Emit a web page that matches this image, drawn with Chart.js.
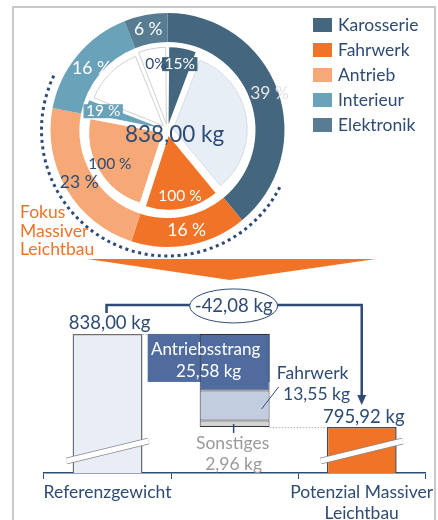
<!DOCTYPE html>
<html>
<head>
<meta charset="utf-8">
<script src="https://cdn.jsdelivr.net/npm/chart.js@4.4.1/dist/chart.umd.min.js"></script>
<style>
  body { margin: 0; width: 438px; height: 520px; overflow: hidden; background: #fff; position: relative;
         font-family: Lato, "Liberation Sans", Arial, sans-serif; }
  .frame { position: absolute; left: 12px; top: 6px; width: 424px; height: 530px; box-sizing: border-box;
           border: 2px solid #c8c8c8; border-bottom: none; }
  #pie { position: absolute; left: 0; top: 0; }
  #bars { position: absolute; left: 0; top: 280px; }
  #funnel { position: absolute; left: 0; top: 0; }
  .legend { position: absolute; left: 313px; top: 12px; }
  .legend div { height: 25px; display: flex; align-items: center; font-size: 17.5px; color: #2e4b74; }
  .legend span { display: inline-block; width: 19px; height: 14px; margin-right: 6px; }
  .focus { position: absolute; left: 20px; top: 203px; font-size: 17.5px; line-height: 18.5px; color: #f07328; }
</style>
</head>
<body>
<div class="frame"></div>
<svg id="funnel" width="438" height="290"><polygon points="87,259 376,259 230,280" fill="#f07328"/></svg>
<canvas id="pie" width="438" height="272"></canvas>
<canvas id="bars" width="438" height="240"></canvas>
<div class="legend" id="legend"></div>
<div class="focus">Fokus<br>Massiver<br>Leichtbau</div>
<script>
const FONT = 'Lato, "Liberation Sans", Arial, sans-serif';
const DARK = '#2e4b74';

// weight share per component group (outer ring, %)
const categories = ['Karosserie', 'Fahrwerk', 'Antrieb', 'Interieur', 'Elektronik'];
const weightShare = [39, 16, 23, 16, 6];
// share of each group addressed by massive lightweight design (inner pie, %)
const focusShare = [15, 100, 100, 19, 0];
const colors = ['#44677f', '#f07328', '#f6a877', '#69a2b9', '#587c91'];
const restColors = ['#e8eef5', '#ffffff', '#ffffff', '#ffffff', '#ffffff'];
const outerLabelColors = ['#e4e4e4', '#ffffff', DARK, '#ffffff', '#ffffff'];
const innerLabelColors = ['#ffffff', '#ffffff', DARK, '#ffffff', DARK];

// waterfall
const totalWeight = 838.00;
const potentialWeight = 795.92;
const savingNames = ['Antriebsstrang', 'Fahrwerk', 'Sonstiges'];
const savingValues = [25.58, 13.55, 2.96];
const savingColors = ['#506c9e', '#c3cde0', '#d4d4d4'];
const xLabels = ['Referenzgewicht', '', ['Potenzial Massiver', 'Leichtbau']];

const fmt = v => v.toFixed(2).replace('.', ',') + ' kg';
const font = size => size + 'px ' + FONT;

// legend
document.getElementById('legend').innerHTML = categories
  .map((c, i) => `<div><span style="background:${colors[i]}"></span>${c}</div>`).join('');

// inner pie: for each group the focus part followed by the rest
const innerData = [], innerColors = [], innerBorder = [];
weightShare.forEach((s, i) => {
  const f = s * focusShare[i] / 100;
  innerData.push(f, s - f);
  innerColors.push(colors[i], restColors[i]);
  innerBorder.push(0, restColors[i] === '#ffffff' ? '#d0d0d0' : '#d6dce6');
});

const pieLabels = {
  id: 'pieLabels',
  afterDatasetsDraw(chart) {
    const ctx = chart.ctx;
    const outer = chart.getDatasetMeta(0).data;
    const inner = chart.getDatasetMeta(2).data;
    const cx = outer[0].x, cy = outer[0].y;
    ctx.save();
    // dotted focus arc
    ctx.strokeStyle = '#2e4b74';
    ctx.lineWidth = 3;
    ctx.setLineDash([3, 3.6]);
    ctx.beginPath();
    ctx.arc(cx, cy, 126, (117 - 90) * Math.PI / 180, (296 - 90) * Math.PI / 180);
    ctx.stroke();
    ctx.setLineDash([]);

    ctx.textAlign = 'center';
    ctx.textBaseline = 'middle';
    ctx.font = font(17.5);
    outer.forEach((el, i) => {
      const a = (el.startAngle + el.endAngle) / 2;
      const r = (el.innerRadius + el.outerRadius) / 2 + (i === 0 ? 6 : 0);
      ctx.fillStyle = outerLabelColors[i];
      ctx.fillText(weightShare[i] + ' %', cx + Math.cos(a) * r + (i === 3 ? 3 : 0), cy + Math.sin(a) * r + (i === 3 ? 4 : 0));
    });

    ctx.font = font(15.5);
    focusShare.forEach((v, i) => {
      const el = v > 0 ? inner[i * 2] : inner[i * 2 + 1];
      const a = (el.startAngle + el.endAngle) / 2;
      const r = 67;
      const tx = cx + Math.cos(a) * r, ty = cy + Math.sin(a) * r;
      const text = v + (v < 20 ? (i === 3 ? ' %' : '%') : ' %');
      if (v > 0 && v < 50) {
        const w = ctx.measureText(text).width + 5;
        ctx.fillStyle = colors[i];
        ctx.fillRect(tx - w / 2, ty - 7, w, 14);
      }
      ctx.fillStyle = innerLabelColors[i];
      ctx.fillText(text, tx + (v === 0 ? 1 : 0), ty);
    });

    ctx.font = font(22.5);
    ctx.fillStyle = DARK;
    ctx.fillText(fmt(totalWeight), cx + 7, cy + 5);
    ctx.restore();
  }
};

new Chart(document.getElementById('pie'), {
  type: 'doughnut',
  data: {
    labels: categories,
    datasets: [
      { data: weightShare, backgroundColor: colors, borderWidth: 0, weight: 29 },
      { data: [1], backgroundColor: 'rgba(0,0,0,0)', borderWidth: 0, weight: 15 },
      {
        data: innerData, backgroundColor: innerColors, borderColor: innerBorder,
        borderWidth: innerBorder.map(b => b ? 1 : 0), weight: 73,
        offset: 24
      }
    ]
  },
  options: {
    responsive: false,
    animation: false,
    events: [],
    radius: 117,
    cutout: 0,
    layout: { padding: { left: 37.5, right: 140.5, top: 0, bottom: 12 } },
    plugins: { legend: { display: false }, tooltip: { enabled: false } }
  },
  plugins: [pieLabels]
});

// waterfall segments of the middle column
let level = totalWeight;
const savingSegments = savingValues.map(v => {
  const seg = [level - v, level];
  level -= v;
  return seg;
});

const barNotes = {
  id: 'barNotes',
  beforeDatasetsDraw(chart) {
    const { ctx, scales: { x, y } } = chart;
    const bw = chart.getDatasetMeta(1).data[1].width;
    const xMid = x.getPixelForValue(1);
    const yTop = y.getPixelForValue(totalWeight);
    ctx.save();
    ctx.fillStyle = savingColors[0];
    ctx.fillRect(xMid - bw / 2 - 52, yTop, 52 + bw, 48);
    ctx.restore();
  },
  afterDatasetsDraw(chart) {
    const { ctx, chartArea, scales: { x, y } } = chart;
    const bw = chart.getDatasetMeta(0).data[0].width;
    const xRef = x.getPixelForValue(0), xMid = x.getPixelForValue(1), xPot = x.getPixelForValue(2);
    const yTop = y.getPixelForValue(totalWeight), yPot = y.getPixelForValue(potentialWeight);
    const yBreak = chartArea.bottom - 22;
    ctx.save();

    // axis breaks
    [xRef, xPot].forEach(xc => {
      ctx.beginPath();
      ctx.moveTo(xc - 41, yBreak + 10);
      ctx.lineTo(xc + 41, yBreak - 10);
      ctx.strokeStyle = '#8a8a8a';
      ctx.lineWidth = 6.5;
      ctx.stroke();
      ctx.strokeStyle = '#ffffff';
      ctx.lineWidth = 5;
      ctx.stroke();
    });

    // dotted connectors
    ctx.strokeStyle = '#a8b4c8';
    ctx.lineWidth = 1;
    ctx.setLineDash([1.5, 1.5]);
    ctx.beginPath();
    ctx.moveTo(xRef + bw / 2, yTop + 0.5); ctx.lineTo(xMid - bw / 2 - 52, yTop + 0.5);
    ctx.moveTo(xMid + bw / 2, yPot + 0.5); ctx.lineTo(xPot - bw / 2, yPot + 0.5);
    ctx.stroke();
    ctx.setLineDash([]);

    // bracket arrow
    const yLine = yTop - 29;
    ctx.strokeStyle = '#2e4b74';
    ctx.lineWidth = 2.5;
    ctx.beginPath();
    ctx.moveTo(xRef - 1, yTop - 21);
    ctx.lineTo(xRef - 1, yLine);
    ctx.lineTo(xPot, yLine);
    ctx.lineTo(xPot, yPot - 30);
    ctx.stroke();
    ctx.fillStyle = '#2e4b74';
    ctx.beginPath();
    ctx.moveTo(xPot - 4.5, yPot - 32);
    ctx.lineTo(xPot + 4.5, yPot - 32);
    ctx.lineTo(xPot, yPot - 22);
    ctx.closePath();
    ctx.fill();

    ctx.beginPath();
    ctx.ellipse(xMid - 1, yLine + 1, 44, 17, 0, 0, Math.PI * 2);
    ctx.fillStyle = '#ffffff';
    ctx.fill();
    ctx.lineWidth = 1;
    ctx.stroke();

    ctx.textAlign = 'center';
    ctx.textBaseline = 'middle';
    ctx.font = font(18.5);
    ctx.fillStyle = DARK;
    ctx.fillText('-' + fmt(totalWeight - potentialWeight), xMid - 1, yLine + 1);
    ctx.fillText(fmt(totalWeight), xRef + 2, yTop - 11);
    ctx.fillText(fmt(potentialWeight), xPot + 2, yPot - 10);

    // Antriebsstrang
    ctx.font = font(17);
    ctx.fillStyle = '#ffffff';
    ctx.fillText(savingNames[0], xMid - 29, yTop + 16);
    ctx.fillText(fmt(savingValues[0]), xMid - 26, yTop + 38);

    // Fahrwerk
    ctx.font = font(17.5);
    const xF = xMid + bw / 2 + 45;
    ctx.fillStyle = DARK;
    ctx.fillText(savingNames[1], xF - 2, yTop + 39);
    ctx.fillText(fmt(savingValues[1]), xF + 2, yTop + 60);
    ctx.strokeStyle = '#2e4b74';
    ctx.lineWidth = 1;
    ctx.beginPath();
    ctx.moveTo(xMid + 27, yTop + 75);
    ctx.lineTo(xMid + 44, yTop + 53);
    ctx.stroke();

    // Sonstiges
    ctx.beginPath();
    ctx.lineWidth = 1.5;
    ctx.moveTo(xMid - 1, yPot - 3);
    ctx.lineTo(xMid - 1, yPot + 6);
    ctx.stroke();
    ctx.fillStyle = '#9a9a9a';
    ctx.fillText(savingNames[2], xMid - 2, yPot + 16);
    ctx.fillText(fmt(savingValues[2]), xMid - 1, yPot + 37);
    ctx.restore();
  }
};

new Chart(document.getElementById('bars'), {
  type: 'bar',
  data: {
    labels: xLabels,
    datasets: [
      { data: [totalWeight, null, null], backgroundColor: '#e9eef6', borderColor: '#6d6d6d', borderWidth: 1.5 },
      ...savingNames.map((n, i) => ({
        label: n, data: [null, savingSegments[i], null], backgroundColor: savingColors[i],
        borderColor: '#333333', borderWidth: 1, borderSkipped: false
      })),
      { data: [null, null, potentialWeight], backgroundColor: '#f07328', borderColor: '#4a4a4a', borderWidth: 1.5 }
    ]
  },
  options: {
    responsive: false,
    animation: false,
    events: [],
    barPercentage: 0.55,
    categoryPercentage: 1,
    layout: { padding: { left: 44, right: 11, top: 0, bottom: 0 } },
    scales: {
      x: {
        stacked: true,
        afterFit: s => { s.height = 47; },
        grid: { display: true, drawOnChartArea: false, tickLength: 6, color: '#2e4b74', offset: true },
        border: { color: '#2e4b74', width: 1.5 },
        ticks: { color: DARK, font: { family: FONT, size: 17.5 }, padding: 3, maxRotation: 0, autoSkip: false }
      },
      y: { stacked: false, display: false, min: 775.1, max: 862.4 }
    },
    plugins: { legend: { display: false }, tooltip: { enabled: false } }
  },
  plugins: [barNotes]
});
</script>
</body>
</html>
